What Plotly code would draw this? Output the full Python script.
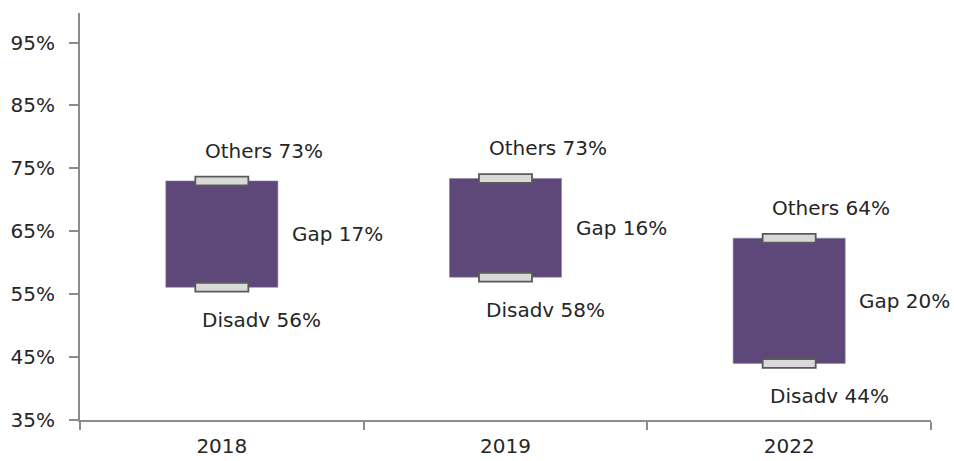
import plotly.graph_objects as go

years = ["2018", "2019", "2022"]
others = [73.0, 73.4, 63.9]   # % Others
disadv = [56.1, 57.7, 44.0]   # % Disadvantaged
y_ticks = [35, 45, 55, 65, 75, 85, 95]
y_tick_text = ["35%", "45%", "55%", "65%", "75%", "85%", "95%"]

gap = [o - d for o, d in zip(others, disadv)]

BAR_COLOR = "#5e4879"
CAP_FILL = "#d9d9d9"
CAP_LINE = "#5a5a5a"
AXIS_COLOR = "#8c8c8c"
TEXT_COLOR = "#262626"
FONT = "DejaVu Sans"
CAP_H = 1.4  # cap thickness in axis units (%)

fig = go.Figure()

# floating gap bar from Disadv up to Others
fig.add_trace(go.Bar(
    x=years, y=gap, base=disadv, width=0.395,
    marker=dict(color=BAR_COLOR, line=dict(color="#8e7fa6", width=0.6)),
    hoverinfo="skip", showlegend=False,
))

# small caps marking the Others and Disadv levels
for series in (others, disadv):
    fig.add_trace(go.Bar(
        x=years, y=[CAP_H] * len(series), base=[v - CAP_H / 2 for v in series],
        width=0.187,
        marker=dict(color=CAP_FILL, line=dict(color=CAP_LINE, width=1.8)),
        hoverinfo="skip", showlegend=False,
    ))

# value labels; category axes take the category index for annotation x
annotations = []
for i, (o, d, g) in enumerate(zip(others, disadv, gap)):
    annotations.append(dict(x=i, y=o, text=f"Others {o:.0f}%", showarrow=False,
                            xanchor="center", yanchor="middle", xshift=42, yshift=30))
    annotations.append(dict(x=i, y=d, text=f"Disadv {d:.0f}%", showarrow=False,
                            xanchor="center", yanchor="middle", xshift=40, yshift=-33))
    annotations.append(dict(x=i, y=(o + d) / 2, text=f"Gap {g:.0f}%", showarrow=False,
                            xanchor="left", yanchor="middle", xshift=68))

fig.update_layout(
    width=954, height=461,
    margin=dict(l=80, r=23, t=13, b=41),
    barmode="overlay",
    plot_bgcolor="white", paper_bgcolor="white",
    font=dict(family=FONT, size=20, color=TEXT_COLOR),
    annotations=annotations,
    xaxis=dict(
        type="category", range=[-0.5, 2.5], showgrid=False, zeroline=False,
        showline=True, linecolor=AXIS_COLOR, linewidth=2,
        ticks="outside", tickson="boundaries", ticklen=8,
        tickcolor=AXIS_COLOR, tickwidth=1.5, tickangle=0,
        ticklabelstandoff=7, automargin=False,
        tickfont=dict(family=FONT, size=20, color=TEXT_COLOR),
    ),
    yaxis=dict(
        range=[35, 99.7], tickvals=y_ticks, ticktext=y_tick_text,
        showgrid=False, zeroline=False,
        showline=True, linecolor=AXIS_COLOR, linewidth=2,
        ticks="outside", ticklen=9, tickcolor=AXIS_COLOR, tickwidth=1.5,
        ticklabelstandoff=10, automargin=False,
        tickfont=dict(family=FONT, size=20, color=TEXT_COLOR),
    ),
)

fig.write_html("out.html")
